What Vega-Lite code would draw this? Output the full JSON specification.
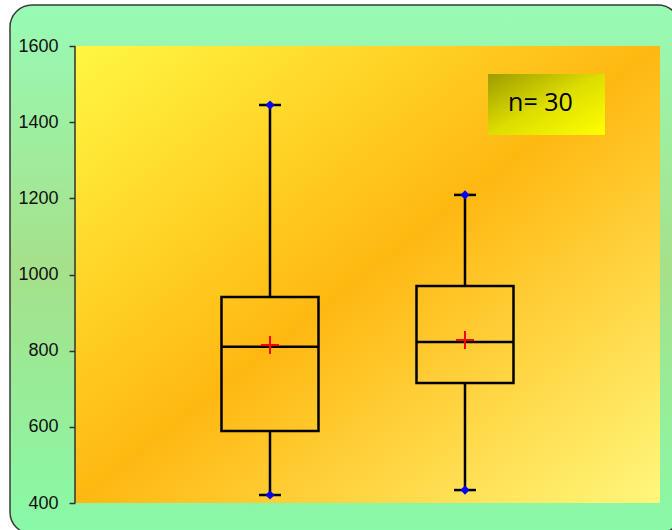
{
  "$schema": "https://vega.github.io/schema/vega-lite/v6.json",
  "width": 670,
  "height": 529,
  "autosize": {"type": "none"},
  "padding": {"left": 10, "top": 5, "right": 0, "bottom": 0},
  "background": "#ffffff",
  "view": {
    "fill": {"gradient": "linear", "x1": 0, "y1": 0, "x2": 0, "y2": 1,
      "stops": [
        {"offset": 0, "color": "#98fbb5"},
        {"offset": 0.5, "color": "#a6e08a"},
        {"offset": 1, "color": "#88faa8"}
      ]},
    "stroke": "#3a3a3a",
    "strokeWidth": 1.5,
    "cornerRadius": 22
  },
  "data": {
    "values": [
      {"group": "A", "x": 1, "min": 421, "q1": 589, "median": 810, "q3": 941, "max": 1445, "mean": 815},
      {"group": "B", "x": 2, "min": 434, "q1": 715, "median": 823, "q3": 970, "max": 1209, "mean": 828}
    ]
  },
  "layer": [
    {
      "data": {"values": [{}]},
      "mark": {"type": "rect",
        "fill": {"gradient": "linear", "x1": 0, "y1": 0, "x2": 1, "y2": 1,
          "stops": [
            {"offset": 0, "color": "#fff742"},
            {"offset": 0.5, "color": "#ffb811"},
            {"offset": 1, "color": "#fff77c"}
          ]}},
      "encoding": {
        "x": {"datum": 0, "type": "quantitative", "scale": {"domain": [-0.3333, 3.1026], "nice": false, "zero": false, "padding": 0}, "axis": null},
        "x2": {"datum": 3},
        "y": {"datum": 400, "type": "quantitative", "scale": {"domain": [318.6, 1707.66], "nice": false, "zero": false, "padding": 0}, "title": null,
          "axis": {"values": [400, 600, 800, 1000, 1200, 1400, 1600], "format": "d", "offset": -65, "domain": false, "grid": false,
            "ticks": true, "tickSize": 6, "tickColor": "#333333", "tickWidth": 1.5,
            "labelFont": "Liberation Sans", "labelFontSize": 18, "labelColor": "#111111", "labelPadding": 11,
            "labelFlush": false, "labelOverlap": false, "title": null}},
        "y2": {"datum": 1600}
      }
    },
    {
      "data": {"values": [{}]},
      "mark": {"type": "rect",
        "fill": {"gradient": "linear", "x1": 0, "y1": 0, "x2": 1, "y2": 1,
          "stops": [
            {"offset": 0, "color": "#9c9c00"},
            {"offset": 0.5, "color": "#dede00"},
            {"offset": 1, "color": "#ffff00"}
          ]}},
      "encoding": {
        "x": {"datum": 2.118, "type": "quantitative", "axis": null},
        "x2": {"datum": 2.718},
        "y": {"datum": 1366, "type": "quantitative", "title": null},
        "y2": {"datum": 1526.5}
      }
    },
    {
      "data": {"values": [{"label": "n= 30"}]},
      "mark": {"type": "text", "font": "Open Sans", "fontSize": 25, "align": "center", "baseline": "alphabetic", "color": "#000000"},
      "encoding": {
        "x": {"datum": 2.387, "type": "quantitative", "axis": null},
        "y": {"datum": 1429, "type": "quantitative", "title": null},
        "text": {"field": "label"}
      }
    },
    {
      "data": {"values": [{}]},
      "mark": {"type": "rule", "stroke": "#333333", "strokeWidth": 1.5},
      "encoding": {
        "x": {"datum": 0, "type": "quantitative", "axis": null},
        "y": {"datum": 400, "type": "quantitative", "title": null},
        "y2": {"datum": 1600}
      }
    },
    {
      "mark": {"type": "rule", "stroke": "#000000", "strokeWidth": 2.5},
      "encoding": {
        "x": {"field": "x", "type": "quantitative", "axis": null},
        "y": {"field": "min", "type": "quantitative", "title": null},
        "y2": {"field": "q1"}
      }
    },
    {
      "mark": {"type": "rule", "stroke": "#000000", "strokeWidth": 2.5},
      "encoding": {
        "x": {"field": "x", "type": "quantitative", "axis": null},
        "y": {"field": "q3", "type": "quantitative", "title": null},
        "y2": {"field": "max"}
      }
    },
    {
      "mark": {"type": "bar", "size": 97, "fill": "#ffffff", "fillOpacity": 0, "stroke": "#000000", "strokeWidth": 2.5},
      "encoding": {
        "x": {"field": "x", "type": "quantitative", "axis": null},
        "y": {"field": "q1", "type": "quantitative", "title": null},
        "y2": {"field": "q3"}
      }
    },
    {
      "mark": {"type": "tick", "orient": "horizontal", "size": 97, "thickness": 2.5, "color": "#000000", "opacity": 1},
      "encoding": {
        "x": {"field": "x", "type": "quantitative", "axis": null},
        "y": {"field": "median", "type": "quantitative", "title": null}
      }
    },
    {
      "mark": {"type": "tick", "orient": "horizontal", "size": 22, "thickness": 2.5, "color": "#000000", "opacity": 1},
      "encoding": {
        "x": {"field": "x", "type": "quantitative", "axis": null},
        "y": {"field": "min", "type": "quantitative", "title": null}
      }
    },
    {
      "mark": {"type": "tick", "orient": "horizontal", "size": 22, "thickness": 2.5, "color": "#000000", "opacity": 1},
      "encoding": {
        "x": {"field": "x", "type": "quantitative", "axis": null},
        "y": {"field": "max", "type": "quantitative", "title": null}
      }
    },
    {
      "mark": {"type": "point", "shape": "diamond", "filled": true, "color": "#0000ff", "opacity": 1, "size": 85},
      "encoding": {
        "x": {"field": "x", "type": "quantitative", "axis": null},
        "y": {"field": "min", "type": "quantitative", "title": null}
      }
    },
    {
      "mark": {"type": "point", "shape": "diamond", "filled": true, "color": "#0000ff", "opacity": 1, "size": 85},
      "encoding": {
        "x": {"field": "x", "type": "quantitative", "axis": null},
        "y": {"field": "max", "type": "quantitative", "title": null}
      }
    },
    {
      "mark": {"type": "point", "shape": "M-1,0L1,0M0,-1L0,1", "filled": false, "stroke": "#ff0000", "strokeWidth": 2, "opacity": 1, "size": 324},
      "encoding": {
        "x": {"field": "x", "type": "quantitative", "axis": null},
        "y": {"field": "mean", "type": "quantitative", "title": null}
      }
    }
  ]
}
